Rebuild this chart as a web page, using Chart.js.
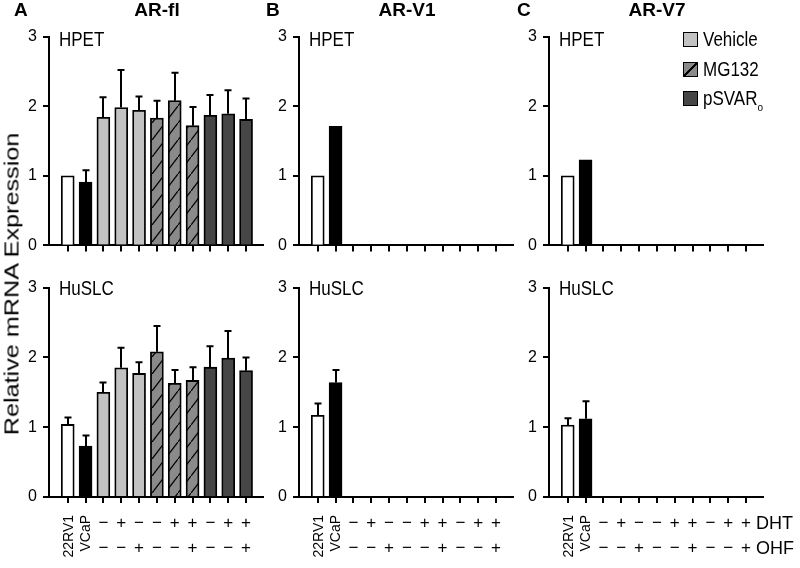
<!DOCTYPE html>
<html>
<head>
<meta charset="utf-8">
<script src="https://cdn.jsdelivr.net/npm/chart.js@4.4.1/dist/chart.umd.min.js"></script>
<style>
  body { margin: 0; background: #fff; }
  #fig { position: relative; width: 800px; height: 568px; overflow: hidden; font-family: Arial, "Liberation Sans", sans-serif; color: #000; }
  #fig canvas { position: absolute; }
  .txt { position: absolute; white-space: nowrap; line-height: 1; }
  .swatch { position: absolute; width: 15px; height: 15px; box-sizing: border-box; border: 1.5px solid #000; }
</style>
</head>
<body>
<div id="fig"></div>
<script>
// x positions of the 11 conditions
const xIndex = [0, 1, 2, 3, 4, 5, 6, 7, 8, 9, 10];
const cellLines = ["22RV1", "VCaP"];
const dhtRow = ["−", "+", "−", "−", "+", "+", "−", "+", "+"];
const ohfRow = ["−", "−", "+", "−", "−", "+", "−", "−", "+"];
const legendLabels = ["Vehicle", "MG132", "pSVAR<span style=\"font-size:10px;position:relative;top:5px\">o</span>"];

// AR-fl
const arFlHpet = [1.0, 0.91, 1.84, 1.98, 1.94, 1.83, 2.08, 1.72, 1.87, 1.89, 1.81];
const arFlHpetErr = [0, 0.17, 0.29, 0.54, 0.2, 0.25, 0.4, 0.27, 0.29, 0.34, 0.3];
const arFlHuslc = [1.04, 0.73, 1.5, 1.85, 1.77, 2.08, 1.63, 1.67, 1.86, 1.99, 1.81];
const arFlHuslcErr = [0.1, 0.15, 0.14, 0.29, 0.16, 0.37, 0.19, 0.19, 0.3, 0.39, 0.19];
// AR-V1
const arV1Hpet = [1.0, 1.71];
const arV1HpetErr = [0, 0];
const arV1Huslc = [1.17, 1.64];
const arV1HuslcErr = [0.17, 0.18];
// AR-V7
const arV7Hpet = [1.0, 1.23];
const arV7HpetErr = [0, 0];
const arV7Huslc = [1.03, 1.12];
const arV7HuslcErr = [0.1, 0.25];

const VEHICLE = "#c2c2c2";
const MG132 = "#8a8a8a";
const PSVAR = "#464646";

Chart.defaults.font.family = 'Arial, "Liberation Sans", sans-serif';
Chart.defaults.color = "#000";

const makeHatch = () => {
  const w = 13, h = 17;
  const tile = document.createElement("canvas");
  tile.width = w;
  tile.height = h;
  const c = tile.getContext("2d");
  c.fillStyle = MG132;
  c.fillRect(0, 0, w, h);
  c.strokeStyle = "#000";
  c.lineWidth = 1.3;
  c.beginPath();
  c.moveTo(-w, 2 * h);
  c.lineTo(2 * w, -h);
  c.stroke();
  return c.createPattern(tile, "repeat");
};
const hatch = makeHatch();
const barColors = ["#fff", "#000", VEHICLE, VEHICLE, VEHICLE, hatch, hatch, hatch, PSVAR, PSVAR, PSVAR];

const errorBars = {
  id: "errorBars",
  afterDatasetsDraw(chart, args, opts) {
    const { ctx, scales: { x, y } } = chart;
    ctx.save();
    ctx.strokeStyle = "#000";
    ctx.lineWidth = 2;
    chart.data.datasets[0].data.forEach((pt, i) => {
      const e = opts.errors[i];
      if (!e) return;
      const px = Math.round(x.getPixelForValue(pt.x));
      const y0 = y.getPixelForValue(pt.y);
      const y1 = y.getPixelForValue(pt.y + e);
      ctx.beginPath();
      ctx.moveTo(px, y0);
      ctx.lineTo(px, y1);
      ctx.moveTo(px - 3.5, y1);
      ctx.lineTo(px + 3.5, y1);
      ctx.stroke();
    });
    ctx.restore();
  },
};

const xLabels = {
  id: "xLabels",
  afterDraw(chart, args, opts) {
    if (!opts.show) return;
    const { ctx, chartArea, scales: { x } } = chart;
    const base = chartArea.bottom;
    ctx.save();
    ctx.fillStyle = "#000";
    ctx.font = '14px Arial, "Liberation Sans", sans-serif';
    cellLines.forEach((name, i) => {
      ctx.save();
      ctx.translate(x.getPixelForValue(xIndex[i]) + 1, base + 18);
      ctx.rotate(-Math.PI / 2);
      ctx.textAlign = "right";
      ctx.textBaseline = "middle";
      ctx.fillText(name, 0, 0);
      ctx.restore();
    });
    ctx.font = '17px Arial, "Liberation Sans", sans-serif';
    ctx.textAlign = "center";
    ctx.textBaseline = "middle";
    dhtRow.forEach((s, i) => ctx.fillText(s, x.getPixelForValue(xIndex[i + 2]), base + 26));
    ohfRow.forEach((s, i) => ctx.fillText(s, x.getPixelForValue(xIndex[i + 2]), base + 51));
    if (opts.rowNames) {
      ctx.font = '18px Arial, "Liberation Sans", sans-serif';
      ctx.textAlign = "left";
      ctx.fillText("DHT", chartArea.right - 7, base + 27);
      ctx.fillText("OHF", chartArea.right - 7, base + 52);
    }
    ctx.restore();
  },
};

const fig = document.getElementById("fig");

const addText = (html, x, baseline, size, opts = {}) => {
  const el = document.createElement("div");
  el.className = "txt";
  el.innerHTML = html;
  const asc = 0.8465 * size;
  el.style.fontSize = size + "px";
  if (opts.bold) el.style.fontWeight = "bold";
  el.style.left = x + "px";
  el.style.top = baseline - asc + "px";
  el.style.transformOrigin = `0 ${asc}px`;
  el.style.transform = (opts.center ? "translateX(-50%) " : "") + `scaleY(${opts.stretch || 1.15})`;
  fig.appendChild(el);
};

const panels = [
  { axisX: 49, top: 33, name: "HPET", values: arFlHpet, errors: arFlHpetErr },
  { axisX: 299, top: 33, name: "HPET", values: arV1Hpet, errors: arV1HpetErr },
  { axisX: 549, top: 33, name: "HPET", values: arV7Hpet, errors: arV7HpetErr },
  { axisX: 49, top: 284, name: "HuSLC", values: arFlHuslc, errors: arFlHuslcErr, bottom: true },
  { axisX: 299, top: 284, name: "HuSLC", values: arV1Huslc, errors: arV1HuslcErr, bottom: true },
  { axisX: 549, top: 284, name: "HuSLC", values: arV7Huslc, errors: arV7HuslcErr, bottom: true, rowNames: true },
];

const CANVAS_W = 290;
const PAD_TOP = 12;
const PLOT_W = 214;
const PLOT_H = 213;
const Y_W = 40;
const X_H = 8;

panels.forEach((p) => {
  const canvas = document.createElement("canvas");
  const h = p.bottom ? 568 - (p.top - PAD_TOP) : 240;
  canvas.width = CANVAS_W;
  canvas.height = h;
  canvas.style.width = CANVAS_W + "px";
  canvas.style.height = h + "px";
  canvas.style.left = p.axisX - Y_W + "px";
  canvas.style.top = p.top - PAD_TOP + "px";
  fig.appendChild(canvas);

  new Chart(canvas, {
    type: "bar",
    data: {
      datasets: [
        {
          data: p.values.map((y, i) => ({ x: xIndex[i], y })),
          backgroundColor: barColors,
          borderColor: "#000",
          borderWidth: 1.8,
          barThickness: 13,
        },
      ],
    },
    options: {
      responsive: false,
      animation: false,
      events: [],
      layout: {
        padding: { top: PAD_TOP, left: 0, right: CANVAS_W - Y_W - PLOT_W, bottom: h - PAD_TOP - PLOT_H - X_H },
      },
      plugins: {
        legend: { display: false },
        tooltip: { enabled: false },
        errorBars: { errors: p.errors },
        xLabels: { show: !!p.bottom, rowNames: !!p.rowNames },
      },
      scales: {
        x: {
          type: "linear",
          min: -1.05,
          max: 10.95,
          offset: false,
          afterBuildTicks: (s) => {
            s.ticks = xIndex.map((v) => ({ value: v }));
          },
          afterFit: (s) => {
            s.height = X_H;
          },
          ticks: { display: false },
          grid: { offset: false, drawOnChartArea: false, tickLength: 6, color: "#000", lineWidth: 2 },
          border: { color: "#000", width: 2 },
        },
        y: {
          min: 0,
          max: 3,
          afterFit: (s) => {
            s.width = Y_W;
          },
          ticks: { stepSize: 1, padding: 6, font: { size: 16 } },
          grid: { drawOnChartArea: false, tickLength: 6, color: "#000", lineWidth: 2 },
          border: { color: "#000", width: 2 },
        },
      },
    },
    plugins: [errorBars, xLabels],
  });

  addText(p.name, p.axisX + 10, p.bottom ? 295 : 46, 17);
});

// panel letters and titles
addText("A", 14, 16, 19, { bold: true, stretch: 1 });
addText("AR-fl", 157, 16, 19, { bold: true, center: true, stretch: 1 });
addText("B", 266, 16, 19, { bold: true, stretch: 1 });
addText("AR-V1", 407, 16, 19, { bold: true, center: true, stretch: 1 });
addText("C", 517, 16, 19, { bold: true, stretch: 1 });
addText("AR-V7", 657, 16, 19, { bold: true, center: true, stretch: 1 });

// y axis title
const yTitle = document.createElement("div");
yTitle.className = "txt";
yTitle.textContent = "Relative mRNA Expression";
yTitle.style.fontSize = "21px";
yTitle.style.left = "11px";
yTitle.style.top = "284px";
yTitle.style.transform = "translate(-50%, -50%) rotate(-90deg) scaleX(1.2)";
fig.appendChild(yTitle);

// legend
const legendFills = [VEHICLE, `linear-gradient(to bottom right, ${MG132} 44%, #000 44%, #000 56%, ${MG132} 56%)`, PSVAR];
const legendTops = [32, 62, 91];
legendLabels.forEach((label, i) => {
  const sw = document.createElement("div");
  sw.className = "swatch";
  sw.style.left = "683px";
  sw.style.top = legendTops[i] + "px";
  sw.style.background = legendFills[i];
  fig.appendChild(sw);
  addText(label, 703, legendTops[i] + 14, 17);
});
</script>
</body>
</html>
